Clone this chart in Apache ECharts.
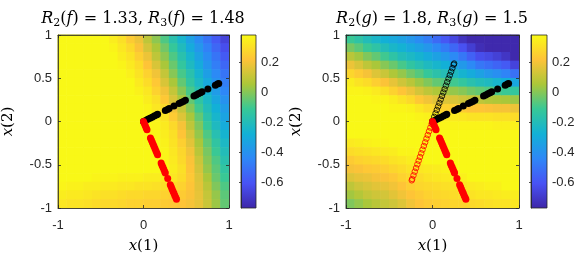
<!DOCTYPE html>
<html><head><meta charset="utf-8">
<script src="https://cdn.jsdelivr.net/npm/echarts@6/dist/echarts.min.js"></script>
<style>html,body{margin:0;padding:0;background:#fff}#c{width:582px;height:260px}</style>
</head><body><div id="c"></div>
<script>
// cell centres (both axes), ascending
const cellCenters = [-0.95,-0.85,-0.75,-0.65,-0.55,-0.45,-0.35,-0.25,-0.15,-0.05,0.05,0.15,0.25,0.35,0.45,0.55,0.65,0.75,0.85,0.95];
// f(x): rows from top (x2=0.95) to bottom (x2=-0.95), columns x1=-0.95..0.95, values x100
const fRows = [
[37,37,37,37,37,37,34,30,24,18,9,1,-8,-17,-25,-34,-42,-50,-58,-66],
[37,37,37,37,37,37,36,32,28,21,13,5,-3,-12,-21,-30,-38,-46,-54,-62],
[37,37,37,37,37,37,37,34,31,25,18,9,1,-8,-17,-25,-34,-42,-50,-58],
[37,37,37,37,37,37,37,36,33,29,22,14,5,-4,-13,-22,-30,-39,-47,-54],
[37,37,37,37,37,37,37,37,35,31,26,19,10,0,-9,-17,-26,-35,-43,-50],
[37,37,37,37,37,37,37,37,37,33,29,23,14,5,-5,-14,-23,-31,-40,-47],
[37,37,37,37,37,37,37,37,37,35,32,26,19,10,0,-9,-18,-27,-36,-44],
[37,37,37,37,37,37,37,37,37,37,34,30,23,14,5,-5,-14,-23,-32,-40],
[37,37,37,37,37,37,37,37,37,37,36,32,28,19,10,0,-10,-20,-28,-36],
[37,37,37,37,37,37,37,37,37,37,37,35,31,24,15,5,-5,-16,-25,-33],
[37,37,37,37,37,37,37,37,37,37,37,36,33,28,20,9,-1,-12,-22,-30],
[37,37,37,37,37,37,37,37,37,37,37,37,34,30,22,13,2,-8,-18,-26],
[37,37,37,37,37,37,37,37,37,37,37,37,35,31,25,16,5,-5,-14,-23],
[37,37,37,37,37,37,37,37,37,37,37,37,36,32,27,19,8,-2,-11,-20],
[37,37,37,37,37,37,37,37,37,37,37,37,36,33,28,21,11,0,-8,-17],
[37,37,37,37,37,37,37,37,37,37,37,37,37,34,30,22,13,2,-6,-14],
[37,37,37,37,36,36,36,35,35,35,34,34,33,32,29,23,15,5,-4,-11],
[36,35,35,34,34,33,33,32,32,31,31,30,30,28,26,22,16,8,-1,-8],
[34,33,33,32,31,30,30,29,28,28,27,27,26,25,24,21,17,10,2,-6],
[32,31,31,30,29,28,28,27,26,26,25,25,24,23,22,20,17,11,3,-5]
];
// g(x): columns from left (x1=-0.95) to right (x1=0.95), each listed top (x2=0.95) to bottom, values x100
const gCols = [
[-11,-2,8,18,27,34,36,37,37,37,37,37,33,29,24,20,15,9,4,-1],
[-15,-6,4,14,24,31,36,37,37,37,37,37,34,30,26,21,17,12,7,2],
[-20,-11,-1,9,20,29,35,37,37,37,37,37,35,31,27,23,18,14,10,5],
[-24,-15,-5,5,15,25,33,36,37,37,37,37,36,32,28,24,20,16,12,8],
[-28,-20,-10,0,11,21,30,36,37,37,37,37,36,33,29,25,21,17,13,10],
[-31,-24,-15,-4,6,17,26,34,36,37,37,37,37,34,31,27,23,19,16,12],
[-34,-27,-20,-9,2,12,22,31,36,37,37,37,37,36,32,29,26,22,19,15],
[-38,-31,-23,-14,-3,8,18,28,35,37,37,37,37,36,34,31,28,25,22,19],
[-42,-34,-26,-18,-7,3,13,23,32,36,37,37,37,37,35,32,29,27,24,22],
[-47,-38,-30,-22,-12,-1,9,19,29,35,36,37,37,37,37,33,31,28,26,24],
[-53,-43,-34,-25,-16,-5,6,16,27,34,36,37,37,37,37,34,32,29,27,25],
[-59,-48,-38,-28,-19,-7,4,15,26,33,36,37,37,37,37,35,33,30,28,26],
[-65,-54,-43,-32,-22,-10,2,14,25,33,36,37,37,37,37,37,34,31,29,27],
[-72,-61,-49,-37,-26,-13,0,12,24,32,36,37,37,37,37,37,35,32,30,27],
[-76,-68,-56,-43,-30,-17,-3,10,22,31,36,37,37,37,37,37,37,33,31,28],
[-76,-74,-62,-49,-34,-20,-5,9,22,31,36,37,37,37,37,37,37,34,32,29],
[-76,-76,-64,-52,-38,-22,-7,7,21,31,36,37,37,37,37,37,37,35,32,30],
[-76,-76,-67,-55,-41,-25,-9,6,20,30,35,37,37,37,37,37,37,35,33,31],
[-76,-76,-71,-58,-45,-28,-11,5,20,30,35,37,37,37,37,37,37,37,34,31],
[-76,-76,-76,-66,-51,-32,-13,3,18,29,35,37,37,37,37,37,37,37,34,32]
];
// filled black dots [x1, x2]
const blackDots = [[0,0],[0.025,0.0125],[0.05,0.025],[0.075,0.0375],[0.1,0.05],[0.125,0.0625],[0.15,0.075],[0.165,0.0825],
[0.255,0.1275],[0.28,0.14],[0.3,0.15],[0.356,0.178],[0.415,0.2075],[0.44,0.22],[0.465,0.2325],[0.49,0.245],
[0.59,0.295],[0.615,0.3075],[0.64,0.32],[0.665,0.3325],[0.685,0.3425],[0.753,0.3765],[0.84,0.42],[0.865,0.4325],[0.88,0.44]];
// filled red dots [x1, x2]
const redDots = [[0,0],[0.011,-0.025],[0.021,-0.05],[0.032,-0.075],[0.041,-0.095],
[0.081,-0.19],[0.092,-0.215],[0.103,-0.24],[0.114,-0.265],[0.124,-0.29],[0.135,-0.315],[0.146,-0.34],[0.156,-0.365],[0.165,-0.385],
[0.206,-0.48],[0.216,-0.505],[0.227,-0.53],[0.238,-0.555],[0.249,-0.58],[0.255,-0.595],[0.283,-0.66],
[0.313,-0.73],[0.324,-0.755],[0.334,-0.78],[0.345,-0.805],[0.356,-0.83],[0.366,-0.855],[0.377,-0.88],[0.386,-0.9]];
// open rings (right plot only)
const ringsUpper = [[0.02,0.054],[0.035,0.094],[0.05,0.134],[0.065,0.174],[0.08,0.214],[0.095,0.255],[0.11,0.295],[0.125,0.335],[0.14,0.375],[0.155,0.415],[0.17,0.456],[0.185,0.496],[0.2,0.536],[0.215,0.576],[0.23,0.616],[0.245,0.657],[0.25,0.67]];
const ringsLower = [[-0.01,-0.028],[-0.025,-0.071],[-0.04,-0.113],[-0.055,-0.156],[-0.07,-0.198],[-0.085,-0.241],[-0.1,-0.283],[-0.115,-0.325],[-0.13,-0.368],[-0.145,-0.41],[-0.16,-0.453],[-0.175,-0.495],[-0.19,-0.538],[-0.205,-0.58],[-0.22,-0.623],[-0.235,-0.665],[-0.24,-0.68]];
const cbTicks = [-0.6,-0.4,-0.2,0,0.2];
const cbRange = [-0.77, 0.38];
const parula = ['#3e26a8','#4852f4','#2e87f7','#12b1d6','#37c897','#abc739','#fec338','#f9fb15'];

const step = cellCenters[1] - cellCenters[0];
const fData = [], gData = [];
fRows.forEach((row, r) => row.forEach((v, c) => fData.push([cellCenters[c], cellCenters[cellCenters.length-1-r], v/100])));
gCols.forEach((col, c) => col.forEach((v, r) => gData.push([cellCenters[c], cellCenters[cellCenters.length-1-r], v/100])));

const AX = '#262626';
const SANS = 'Liberation Sans';
const SERIF = 'DejaVu Serif';
const nameRich = { i: { fontFamily: SERIF, fontStyle: 'italic', fontSize: 15, color: '#000' }, n: { fontFamily: SERIF, fontSize: 15, color: '#000' } };

function mainX(grid, show) {
  return { gridIndex: grid, type: 'value', min: -1, max: 1, interval: 1, position: show ? 'bottom' : 'top', z: 10,
    axisLine: { show: true, onZero: false, lineStyle: { color: AX, width: 0.8 } },
    axisTick: { show: true, inside: true, length: 3, lineStyle: { color: AX, width: 0.8 } },
    splitLine: { show: false },
    axisLabel: { show: show, margin: 11, color: AX, fontFamily: SANS, fontSize: 13 },
    name: show ? '{i|x}{n|(1)}' : '', nameLocation: 'middle', nameGap: 31,
    nameTextStyle: { rich: nameRich } };
}
function mainY(grid, show) {
  return { gridIndex: grid, type: 'value', min: -1, max: 1, interval: 0.5, position: show ? 'left' : 'right', z: 10,
    axisLine: { show: true, onZero: false, lineStyle: { color: AX, width: 0.8 } },
    axisTick: { show: true, inside: true, length: 3, lineStyle: { color: AX, width: 0.8 } },
    splitLine: { show: false },
    axisLabel: { show: show, margin: 6, color: AX, fontFamily: SANS, fontSize: 13 },
    name: show ? '{i|x}{n|(2)}' : '', nameLocation: 'middle', nameGap: 42, nameRotate: 90,
    nameTextStyle: { rich: nameRich } };
}
function cbX(grid) { return { gridIndex: grid, type: 'value', min: 0, max: 1, show: false }; }
function cbY(grid) {
  return { gridIndex: grid, type: 'value', min: cbRange[0], max: cbRange[1], position: 'right', z: 10,
    axisLine: { show: true, lineStyle: { color: AX, width: 0.8 } },
    axisTick: { show: true, inside: true, length: 2, customValues: cbTicks, lineStyle: { color: AX, width: 0.8 } },
    splitLine: { show: false },
    axisLabel: { show: true, customValues: cbTicks, margin: 5, color: AX, fontFamily: SANS, fontSize: 13 } };
}
const cbGradient = new echarts.graphic.LinearGradient(0, 1, 0, 0, parula.map((c, i) => ({ offset: i / (parula.length - 1), color: c })));

function cells(xi, yi, data) {
  return { type: 'custom', xAxisIndex: xi, yAxisIndex: yi, data: data, dimensions: ['x1','x2','v'], encode: { x: 0, y: 1 },
    renderItem: function (params, api) {
      const p = api.coord([api.value(0), api.value(1)]);
      const s = api.size([step, step]);
      return { type: 'rect', shape: { x: p[0] - s[0] / 2 - 0.3, y: p[1] - s[1] / 2 - 0.3, width: s[0] + 0.6, height: s[1] + 0.6 },
        style: { fill: api.visual('color') } };
    } };
}
function dots(xi, yi, data, color) {
  return { type: 'scatter', xAxisIndex: xi, yAxisIndex: yi, data: data, symbolSize: 7, itemStyle: { color: color, opacity: 1 }, silent: true, z: 4 };
}
function rings(xi, yi, data, color) {
  return { type: 'scatter', xAxisIndex: xi, yAxisIndex: yi, data: data, symbolSize: 5.5, symbol: 'circle',
    itemStyle: { color: 'rgba(0,0,0,0)', borderColor: color, borderWidth: 0.8, opacity: 1 }, silent: true, z: 3 };
}
const titleRich = {
  i: { fontFamily: SERIF, fontStyle: 'italic', fontSize: 16, lineHeight: 20, fill: '#000' },
  n: { fontFamily: SERIF, fontSize: 16, lineHeight: 20, fill: '#000' },
  s: { fontFamily: SERIF, fontSize: 11, lineHeight: 10, verticalAlign: 'bottom', fill: '#000' }
};

const option = {
  animation: false,
  backgroundColor: '#fff',
  grid: [
    { left: 57, top: 35, width: 172, height: 173, show: true, borderColor: AX, borderWidth: 0.8, backgroundColor: 'transparent' },
    { left: 241, top: 35, width: 15, height: 173, show: true, borderColor: AX, borderWidth: 0.8, backgroundColor: cbGradient },
    { left: 346, top: 35, width: 173, height: 173, show: true, borderColor: AX, borderWidth: 0.8, backgroundColor: 'transparent' },
    { left: 531, top: 35, width: 16, height: 173, show: true, borderColor: AX, borderWidth: 0.8, backgroundColor: cbGradient }
  ],
  xAxis: [mainX(0, true), mainX(0, false), cbX(1), mainX(2, true), mainX(2, false), cbX(3)],
  yAxis: [mainY(0, true), mainY(0, false), cbY(1), mainY(2, true), mainY(2, false), cbY(3)],
  visualMap: { type: 'continuous', show: false, min: cbRange[0], max: cbRange[1], dimension: 2, seriesIndex: [0, 3], inRange: { color: parula } },
  series: [
    cells(0, 0, fData),
    dots(0, 0, blackDots, '#000'),
    dots(0, 0, redDots, '#ff0000'),
    cells(3, 3, gData),
    rings(3, 3, ringsUpper, '#000'),
    rings(3, 3, ringsLower, '#ff0000'),
    dots(3, 3, blackDots, '#000'),
    dots(3, 3, redDots, '#ff0000'),
    { type: 'scatter', xAxisIndex: 2, yAxisIndex: 2, data: [] },
    { type: 'scatter', xAxisIndex: 5, yAxisIndex: 5, data: [] }
  ],
  graphic: [
    { type: 'text', x: 143, y: 19, style: { text: '{i|R}{s|2}{n|(}{i|f}{n|) = 1.33, }{i|R}{s|3}{n|(}{i|f}{n|) = 1.48}', rich: titleRich, align: 'center', verticalAlign: 'middle' } },
    { type: 'text', x: 432, y: 19, style: { text: '{i|R}{s|2}{n|(}{i|g}{n|) = 1.8, }{i|R}{s|3}{n|(}{i|g}{n|) = 1.5}', rich: titleRich, align: 'center', verticalAlign: 'middle' } }
  ]
};
const chart = echarts.init(document.getElementById('c'), null, { renderer: 'canvas' });
chart.setOption(option);
</script></body></html>
